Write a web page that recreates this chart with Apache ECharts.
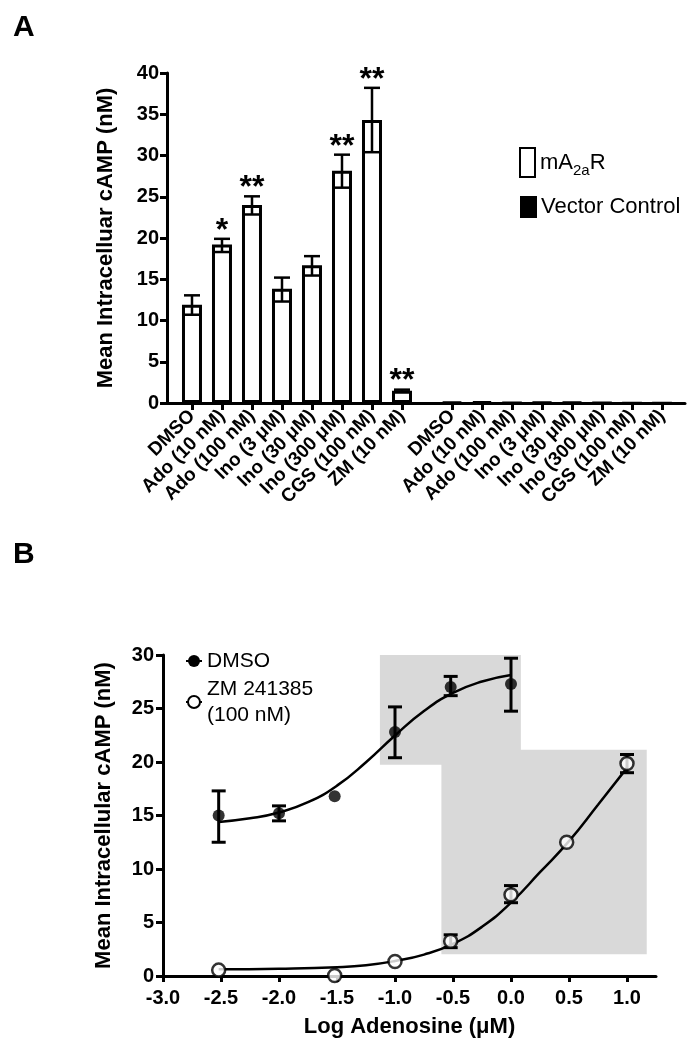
<!DOCTYPE html>
<html><head><meta charset="utf-8">
<script src="https://cdn.jsdelivr.net/npm/echarts@6/dist/echarts.min.js"></script>
<style>html,body{margin:0;padding:0;background:#fff}#c{width:698px;height:1050px}</style>
</head><body><div id="c"></div>
<script>
// ---------- Panel A data ----------
const conditions = ['DMSO','Ado (10 nM)','Ado (100 nM)','Ino (3 μM)','Ino (30 μM)','Ino (300 μM)','CGS (100 nM)','ZM (10 nM)'];
const a2aMean = [11.9, 19.2, 24.0, 13.85, 16.7, 28.15, 34.3, 1.5];
const a2aLow  = [10.7, 18.3, 22.85, 12.3, 15.45, 26.1, 30.4, 1.38];
const a2aHigh = [13.05, 19.9, 25.05, 15.2, 17.8, 30.1, 38.2, 1.62];
const a2aStars = ['', '*', '**', '', '', '**', '**', '**'];
const vectorMean = [0.15, 0.2, 0.05, 0.1, 0.12, 0.05, 0.03, 0.03];
const yTicksA = [0, 5, 10, 15, 20, 25, 30, 35, 40];

// ---------- Panel B data ----------
const dmsoX    = [-2.52, -2.0, -1.52, -1.0, -0.52, 0.0];
const dmsoMean = [15.0, 15.2, 16.8, 22.8, 27.0, 27.3];
const dmsoLow  = [12.5, 14.5, null, 20.4, 26.2, 24.75];
const dmsoHigh = [17.3, 15.9, null, 25.15, 28.0, 29.7];
const zmX    = [-2.52, -1.52, -1.0, -0.52, 0.0, 0.48, 1.0];
const zmMean = [0.55, 0.05, 1.35, 3.25, 7.6, 12.5, 19.85];
const zmLow  = [null, null, null, 2.65, 6.85, null, 19.0];
const zmHigh = [null, null, null, 3.85, 8.45, null, 20.7];
// fitted curves
const dmsoFitX = [-2.52, -2.25, -2.0, -1.75, -1.5, -1.25, -1.0, -0.75, -0.5, -0.25, 0.0];
const dmsoFitY = [14.4, 14.74, 15.28, 16.24, 17.79, 19.98, 22.48, 24.77, 26.46, 27.52, 28.13];
const zmFitX = [-2.52, -2.0, -1.5, -1.25, -1.0, -0.75, -0.5, -0.25, 0.0, 0.25, 0.5, 0.75, 1.0];
const zmFitY = [0.62, 0.68, 0.82, 1.0, 1.4, 2.0, 3.0, 4.6, 6.85, 9.7, 12.6, 16.0, 19.45];
// shaded regions [x1, y1, x2, y2]
const shadeBoxes = [[-1.13, 19.75, 0.085, 30.45], [-0.60, 2.03, 1.17, 21.15]];
const xTicksB = [-3.0, -2.5, -2.0, -1.5, -1.0, -0.5, 0.0, 0.5, 1.0];
const yTicksB = [0, 5, 10, 15, 20, 25, 30];

// ---------- layout ----------
const FONT = '"Liberation Sans", Arial, Helvetica, sans-serif';
const GROUP2_OFFSET = 8.667;
const posG1 = conditions.map((c, i) => i);
const posG2 = conditions.map((c, i) => i + GROUP2_OFFSET);
const allPos = posG1.concat(posG2);
const allLabels = conditions.concat(conditions);
function labelFor(v) {
  for (let i = 0; i < allPos.length; i++) if (Math.abs(allPos[i] - v) < 1e-3) return allLabels[i];
  return '';
}
const BLK = '#000';
const axisLine = {show: true, onZero: false, lineStyle: {color: BLK, width: 3}};
const axisTickBase = {show: true, length: 7, lineStyle: {color: BLK, width: 3}};
const tickLabel = {color: BLK, fontSize: 20, fontWeight: 'bold', fontFamily: FONT};
const nameStyle = {color: BLK, fontSize: 22, fontWeight: 'bold', fontFamily: FONT};

function errRenderer(capHalf, lw, stars) {
  return function (params, api) {
    const x = api.value(0), lo = api.value(1), hi = api.value(2), i = api.value(3);
    const pLo = api.coord([x, lo]), pHi = api.coord([x, hi]);
    const st = {stroke: BLK, lineWidth: lw};
    const ch = [
      {type: 'line', shape: {x1: pLo[0], y1: pLo[1], x2: pHi[0], y2: pHi[1]}, style: st},
      {type: 'line', shape: {x1: pLo[0] - capHalf, y1: pLo[1], x2: pLo[0] + capHalf, y2: pLo[1]}, style: st},
      {type: 'line', shape: {x1: pHi[0] - capHalf, y1: pHi[1], x2: pHi[0] + capHalf, y2: pHi[1]}, style: st}
    ];
    if (stars && stars[i]) {
      ch.push({type: 'text', x: pHi[0], y: pHi[1] - 8,
        style: {text: stars[i], fontSize: 32, fontWeight: 'bold', fontFamily: FONT, fill: BLK, align: 'center', verticalAlign: 'middle'}});
    }
    return {type: 'group', children: ch};
  };
}

const chart = echarts.init(document.getElementById('c'));
const option = {
  animation: false,
  backgroundColor: '#fff',
  textStyle: {fontFamily: FONT},
  title: [
    {text: 'A', left: 8, top: 8, textStyle: {fontSize: 30, fontWeight: 'bold', color: BLK, fontFamily: FONT}},
    {text: 'B', left: 8, top: 535, textStyle: {fontSize: 30, fontWeight: 'bold', color: BLK, fontFamily: FONT}}
  ],
  grid: [
    {left: 167, top: 73, width: 518, height: 330, outerBoundsMode: 'none', containLabel: false},
    {left: 163, top: 655, width: 493, height: 321, outerBoundsMode: 'none', containLabel: false}
  ],
  xAxis: [
    {gridIndex: 0, type: 'value', min: -0.833, max: 16.433, axisLine: axisLine,
     axisTick: Object.assign({}, axisTickBase, {customValues: allPos}),
     axisLabel: Object.assign({}, tickLabel, {customValues: allPos, rotate: 45, margin: 10, fontSize: 19, formatter: labelFor}),
     splitLine: {show: false}},
    {gridIndex: 1, type: 'value', min: -3, max: 1.25, axisLine: axisLine,
     name: 'Log Adenosine (μM)', nameLocation: 'middle', nameGap: 40, nameTextStyle: nameStyle,
     axisTick: Object.assign({}, axisTickBase, {customValues: xTicksB, length: 6}),
     axisLabel: Object.assign({}, tickLabel, {customValues: xTicksB, margin: 12, formatter: v => v.toFixed(1)}),
     splitLine: {show: false}}
  ],
  yAxis: [
    {gridIndex: 0, type: 'value', min: 0, max: 40, interval: 5, axisLine: axisLine, axisTick: axisTickBase,
     name: 'Mean Intracelluar cAMP (nM)', nameLocation: 'middle', nameGap: 50, nameTextStyle: nameStyle,
     axisLabel: Object.assign({}, tickLabel, {margin: 8, customValues: yTicksA}), splitLine: {show: false}},
    {gridIndex: 1, type: 'value', min: 0, max: 30, interval: 5, axisLine: axisLine, axisTick: axisTickBase,
     name: 'Mean Intracellular cAMP (nM)', nameLocation: 'middle', nameGap: 48, nameTextStyle: nameStyle,
     axisLabel: Object.assign({}, tickLabel, {margin: 9, customValues: yTicksB}), splitLine: {show: false}}
  ],
  legend: [
    {data: ['mA2aR'], left: 519, top: 147, padding: 0, icon: 'rect', itemWidth: 15, itemHeight: 29, selectedMode: false,
     formatter: () => '{n|mA}{s|2a}{n|R}',
     textStyle: {rich: {n: {fontSize: 22, color: BLK, fontFamily: FONT},
                        s: {fontSize: 15, color: BLK, fontFamily: FONT, verticalAlign: 'bottom', padding: [16, 0, 0, 0]}}}},
    {data: ['Vector Control'], left: 520, top: 196, padding: 0, icon: 'rect', itemWidth: 15, itemHeight: 20, selectedMode: false,
     textStyle: {fontSize: 22, color: BLK, fontFamily: FONT, lineHeight: 22}},
    {data: ['DMSO'], left: 185, top: 649, padding: 0, itemWidth: 16, itemHeight: 15, selectedMode: false,
     textStyle: {fontSize: 21, color: BLK, fontFamily: FONT, lineHeight: 24}},
    {data: ['ZM 241385 (100 nM)'], left: 185, top: 663, padding: 0, itemWidth: 16, itemHeight: 15, selectedMode: false,
     formatter: () => 'ZM 241385\n(100 nM)',
     textStyle: {fontSize: 21, color: BLK, fontFamily: FONT, lineHeight: 26, padding: [26, 0, 0, 0]}}
  ],
  series: [
    {name: 'mA2aR', type: 'bar', xAxisIndex: 0, yAxisIndex: 0, barWidth: 20, barGap: '-100%',
     itemStyle: {color: '#fff', borderColor: BLK, borderWidth: 3},
     data: posG1.map((p, i) => [p, a2aMean[i]])},
    {name: 'Vector Control', type: 'bar', xAxisIndex: 0, yAxisIndex: 0, barWidth: 20, barGap: '-100%',
     itemStyle: {color: BLK, borderColor: BLK, borderWidth: 2.5},
     data: posG2.map((p, i) => [p, vectorMean[i]])},
    {name: 'errA', type: 'custom', xAxisIndex: 0, yAxisIndex: 0, z: 5, encode: {x: 0, y: [1, 2]},
     renderItem: errRenderer(8, 2.5, a2aStars),
     data: posG1.map((p, i) => [p, a2aLow[i], a2aHigh[i], i])},

    {name: 'DMSO', type: 'line', xAxisIndex: 1, yAxisIndex: 1, smooth: true, showSymbol: false, symbol: 'circle',
     lineStyle: {color: BLK, width: 2.5}, itemStyle: {color: BLK}, z: 3,
     data: dmsoFitX.map((x, i) => [x, dmsoFitY[i]])},
    {name: 'ZM 241385 (100 nM)', type: 'line', xAxisIndex: 1, yAxisIndex: 1, smooth: true, showSymbol: false, symbol: 'emptyCircle',
     lineStyle: {color: BLK, width: 2.5}, itemStyle: {color: BLK}, z: 3, clip: false,
     data: zmFitX.map((x, i) => [x, zmFitY[i]]),
     markArea: {silent: true, itemStyle: {color: '#d9d9d9'},
       data: shadeBoxes.map(b => [{coord: [b[0], b[1]]}, {coord: [b[2], b[3]]}])}},
    {name: 'errB', type: 'custom', xAxisIndex: 1, yAxisIndex: 1, z: 6, encode: {x: 0, y: [1, 2]},
     renderItem: errRenderer(7, 3, null),
     data: dmsoX.map((x, i) => [x, dmsoLow[i], dmsoHigh[i], i]).filter(d => d[1] != null)
       .concat(zmX.map((x, i) => [x, zmLow[i], zmHigh[i], i]).filter(d => d[1] != null))},
    {name: 'DMSO points', type: 'scatter', xAxisIndex: 1, yAxisIndex: 1, symbol: 'circle', symbolSize: 12, z: 10,
     itemStyle: {color: BLK}, data: dmsoX.map((x, i) => [x, dmsoMean[i]])},
    {name: 'ZM points', type: 'scatter', xAxisIndex: 1, yAxisIndex: 1, symbol: 'circle', symbolSize: 13, z: 10,
     itemStyle: {color: '#fff', borderColor: BLK, borderWidth: 2.5}, data: zmX.map((x, i) => [x, zmMean[i]])}
  ]
};
chart.setOption(option);
</script></body></html>
